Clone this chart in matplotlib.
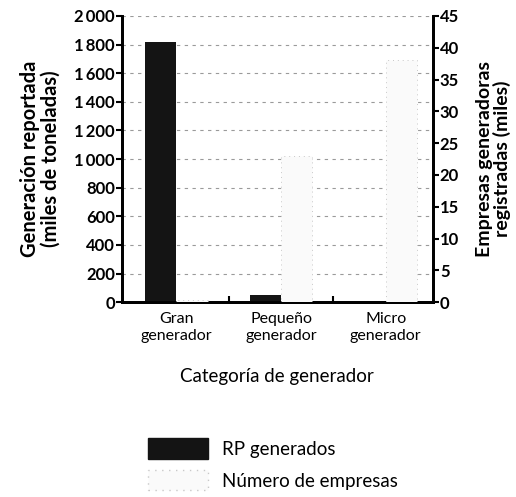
import numpy as np
import matplotlib
matplotlib.use('Agg')
import matplotlib.pyplot as plt
from matplotlib.patches import Patch
from matplotlib.ticker import FixedLocator, FuncFormatter

plt.rcParams['font.family'] = ['Lato', 'DejaVu Sans']

# Residuos peligrosos por categoria de generador
categorias = ['Gran\ngenerador', 'Pequeño\ngenerador', 'Micro\ngenerador']
rp_generados = [1820, 50, 2]          # miles de toneladas
num_empresas = [0.4, 23, 38]          # miles de empresas

dark = '#141414'
light = '#fafafa'
light_edge = '#c8c8c8'

fig = plt.figure(figsize=(5.16, 4.97), dpi=100)
ax = fig.add_axes([0.236, 0.392, 0.603, 0.576])
ax2 = ax.twinx()

x = np.arange(len(categorias))
w = 0.3
ax.bar(x - w / 2, rp_generados, w, color=dark, zorder=3)
ax2.bar(x + w / 2, num_empresas, w, color=light, edgecolor=light_edge,
        linewidth=0.7, linestyle=(0, (1, 4)), zorder=3)

ax.set_xlim(-0.52, 2.45)
ax.set_ylim(0, 2000)
ax2.set_ylim(0, 45)
ax.set_yticks(np.arange(0, 2001, 200))
ax2.set_yticks(np.arange(0, 46, 5))
ax.yaxis.set_major_formatter(FuncFormatter(lambda v, p: f'{int(v):,}'.replace(',', '\u2009')))

ax.grid(axis='y', color='#9a9a9a', linestyle=(0, (3, 4)), linewidth=0.8, zorder=0)
ax.set_axisbelow(True)

ax.set_xticks(x)
ax.set_xticklabels(categorias, fontsize=11.5, linespacing=1.3)
ax.tick_params(axis='x', length=0, pad=7)
ax.xaxis.set_minor_locator(FixedLocator([0.5, 1.5]))
ax.tick_params(axis='x', which='minor', length=4, width=1.5, direction='in')

for a in (ax, ax2):
    a.spines['top'].set_visible(False)
    for s in ('left', 'right', 'bottom'):
        a.spines[s].set_linewidth(2)
    a.tick_params(axis='y', length=4, width=1.5, labelsize=12, pad=1)
    for lbl in a.get_yticklabels():
        lbl.set_fontweight('bold')

ax.set_ylabel('Generación reportada\n(miles de toneladas)', fontsize=14.5,
              fontweight='bold', linespacing=1.0, labelpad=10)
ax2.set_ylabel('Empresas generadoras\nregistradas (miles)', fontsize=14,
               fontweight='bold', linespacing=1.0, labelpad=12)
ax.set_xlabel('Categoría de generador', fontsize=13.5, labelpad=18)

handles = [Patch(facecolor=dark, edgecolor=dark),
           Patch(facecolor=light, edgecolor=light_edge, linestyle=(0, (1, 4)))]
fig.legend(handles, ['RP generados', 'Número de empresas'],
           loc='upper left', bbox_to_anchor=(0.255, 0.152), frameon=False,
           fontsize=13.5, handlelength=3.2, handleheight=1.3,
           labelspacing=0.6, handletextpad=0.7)

fig.savefig('out.png', dpi=100)
